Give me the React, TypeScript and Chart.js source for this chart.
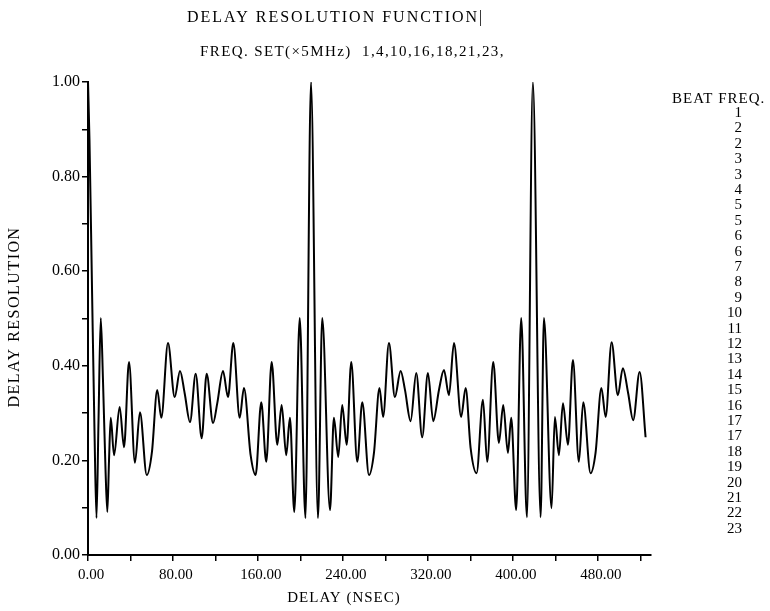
import { useEffect, useRef } from "react";
import { Chart, registerables } from "chart.js";

Chart.register(...registerables);

const FONT = '"Liberation Serif", "DejaVu Serif", serif';

// Traced delay-resolution curve: delay (ns) and normalised resolution
const delayNs = [
  0, 1.4, 3.8, 6.1, 8.0, 9.9, 12.0, 14.1, 16.5, 18.2,
  19.8, 21.4, 24.5, 29.8, 33.9, 38.6, 44.2, 48.9, 55.3, 60.2,
  65.2, 69.0, 75.3, 81.6, 86.6, 91.0, 96.0, 101.4, 107.0, 111.7,
  117.7, 121.7, 127.1, 131.8, 136.8, 142.8, 146.8, 153.1, 157.8, 163.1,
  167.8, 172.9, 178.2, 182.3, 186.6, 190.1, 194.2, 199.3, 204.7, 209.9,
  216.5, 220.5, 227.8, 231.5, 235.6, 239.3, 243.5, 247.8, 253.5, 258.2,
  264.5, 269.2, 274.4, 277.8, 283.3, 288.9, 294.3, 298.4, 303.7, 309.0,
  314.6, 320.0, 325.0, 330.4, 335.1, 339.8, 344.5, 351.3, 355.5, 360.2,
  365.8, 371.8, 375.8, 381.5, 386.8, 390.9, 395.3, 398.4, 403.1, 407.8,
  413.2, 418.8, 426.1, 429.2, 436.4, 439.5, 443.3, 447.1, 451.8, 456.5,
  462.1, 466.2, 473.1, 477.8, 483.3, 487.3, 492.9, 498.8, 503.5, 508.5,
  513.2, 519.3, 524.9,
];
const resolution = [
  1.0, 0.877, 0.56, 0.264, 0.078, 0.285, 0.501, 0.37, 0.18, 0.091,
  0.201, 0.29, 0.211, 0.313, 0.228, 0.408, 0.195, 0.302, 0.169, 0.218,
  0.349, 0.29, 0.448, 0.334, 0.389, 0.342, 0.281, 0.383, 0.247, 0.383,
  0.279, 0.321, 0.389, 0.334, 0.448, 0.29, 0.353, 0.211, 0.169, 0.323,
  0.197, 0.408, 0.233, 0.317, 0.211, 0.29, 0.091, 0.501, 0.078, 1.0,
  0.078, 0.501, 0.095, 0.29, 0.207, 0.317, 0.233, 0.408, 0.197, 0.323,
  0.169, 0.216, 0.353, 0.292, 0.448, 0.334, 0.389, 0.349, 0.283, 0.385,
  0.249, 0.385, 0.283, 0.349, 0.391, 0.338, 0.448, 0.292, 0.353, 0.226,
  0.173, 0.328, 0.197, 0.408, 0.237, 0.317, 0.216, 0.29, 0.095, 0.501,
  0.08, 1.0, 0.08, 0.501, 0.099, 0.292, 0.211, 0.321, 0.233, 0.412,
  0.197, 0.323, 0.173, 0.216, 0.353, 0.292, 0.45, 0.338, 0.395, 0.342,
  0.285, 0.387, 0.249,
];

const freqSet = [1, 4, 10, 16, 18, 21, 23];
const beatFreqs = [1, 2, 2, 3, 3, 4, 5, 5, 6, 6, 7, 8, 9, 10, 11, 12, 13, 14, 15, 16, 17, 17, 18, 19, 20, 21, 22, 23];

const chartTitle = "DELAY RESOLUTION FUNCTION|";
const subtitle = `FREQ. SET(\u00d75MHz)  ${freqSet.join(",")},`;
const xTitle = "DELAY (NSEC)";
const yTitle = "DELAY RESOLUTION";
const legendTitle = "BEAT FREQ.";

const delayMax = 530;

// Titles and the beat-frequency column drawn around the plot
const sheetText = {
  id: "sheetText",
  beforeDraw(chart: any) {
    const ctx = chart.ctx;
    ctx.save();
    ctx.fillStyle = "#fff";
    ctx.fillRect(0, 0, chart.width, chart.height);
    ctx.restore();
  },
  afterDraw(chart: any) {
    const ctx = chart.ctx as CanvasRenderingContext2D;
    const c = ctx as any;
    ctx.save();
    ctx.fillStyle = "#000";
    ctx.textBaseline = "middle";
    ctx.textAlign = "left";

    c.letterSpacing = "2px";
    ctx.font = `16px ${FONT}`;
    ctx.fillText(chartTitle, 187, 18);

    c.letterSpacing = "1.4px";
    ctx.font = `15px ${FONT}`;
    ctx.fillText(subtitle, 200, 52);

    ctx.textAlign = "center";
    c.letterSpacing = "1px";
    ctx.font = `15px ${FONT}`;
    ctx.fillText(xTitle, 344, 598);

    ctx.save();
    c.letterSpacing = "1.5px";
    ctx.font = `16px ${FONT}`;
    ctx.translate(15, 317);
    ctx.rotate(-Math.PI / 2);
    ctx.fillText(yTitle, 0, 0);
    ctx.restore();

    ctx.textAlign = "left";
    c.letterSpacing = "1px";
    ctx.font = `15px ${FONT}`;
    ctx.fillText(legendTitle, 672, 99);

    ctx.textAlign = "right";
    c.letterSpacing = "0px";
    ctx.font = `15px ${FONT}`;
    beatFreqs.forEach((f, i) => {
      ctx.fillText(String(f), 742, 113 + i * 15.4);
    });
    ctx.restore();
  },
};

export default function App() {
  const canvasRef = useRef<HTMLCanvasElement | null>(null);

  useEffect(() => {
    const canvas = canvasRef.current;
    if (!canvas) return;
    const chart = new Chart(canvas, {
      type: "line",
      data: {
        datasets: [
          {
            data: delayNs.map((t, i) => ({ x: t, y: resolution[i] })),
            borderColor: "#000",
            borderWidth: 2,
            pointRadius: 0,
            cubicInterpolationMode: "monotone",
            fill: false,
          },
        ],
      },
      options: {
        animation: false,
        responsive: false,
        maintainAspectRatio: false,
        layout: { padding: { left: 0, top: 82, right: 119, bottom: 0 } },
        plugins: {
          legend: { display: false },
          tooltip: { enabled: false },
          title: { display: false },
        },
        scales: {
          x: {
            type: "linear",
            min: 0,
            max: delayMax,
            border: { display: true, color: "#000", width: 2 },
            grid: {
              display: true,
              drawOnChartArea: false,
              drawTicks: true,
              tickLength: 6,
              color: "#000",
              lineWidth: 1.5,
            },
            ticks: {
              stepSize: 40,
              includeBounds: false,
              autoSkip: false,
              maxRotation: 0,
              padding: 5,
              labelOffset: 3,
              color: "#000",
              font: { family: FONT, size: 15 },
              callback: (v: any) => (Math.round(v) % 80 === 0 ? Number(v).toFixed(2) : ""),
            },
            afterFit: (s: any) => {
              s.height = 56;
            },
          },
          y: {
            min: 0,
            max: 1,
            border: { display: true, color: "#000", width: 2 },
            grid: {
              display: true,
              drawOnChartArea: false,
              drawTicks: true,
              tickLength: 6,
              color: "#000",
              lineWidth: 1.5,
            },
            ticks: {
              stepSize: 0.1,
              autoSkip: false,
              padding: 2,
              color: "#000",
              font: { family: FONT, size: 16 },
              callback: (v: any) => (Math.round(Number(v) * 10) % 2 === 0 ? Number(v).toFixed(2) : ""),
            },
            afterFit: (s: any) => {
              s.width = 88;
            },
          },
        },
      },
      plugins: [sheetText],
    } as any);
    return () => chart.destroy();
  }, []);

  return (
    <div style={{ position: "absolute", left: 0, top: 0, width: 770, height: 611, background: "#fff" }}>
      <canvas ref={canvasRef} width={770} height={611} style={{ display: "block", width: 770, height: 611 }} />
    </div>
  );
}
